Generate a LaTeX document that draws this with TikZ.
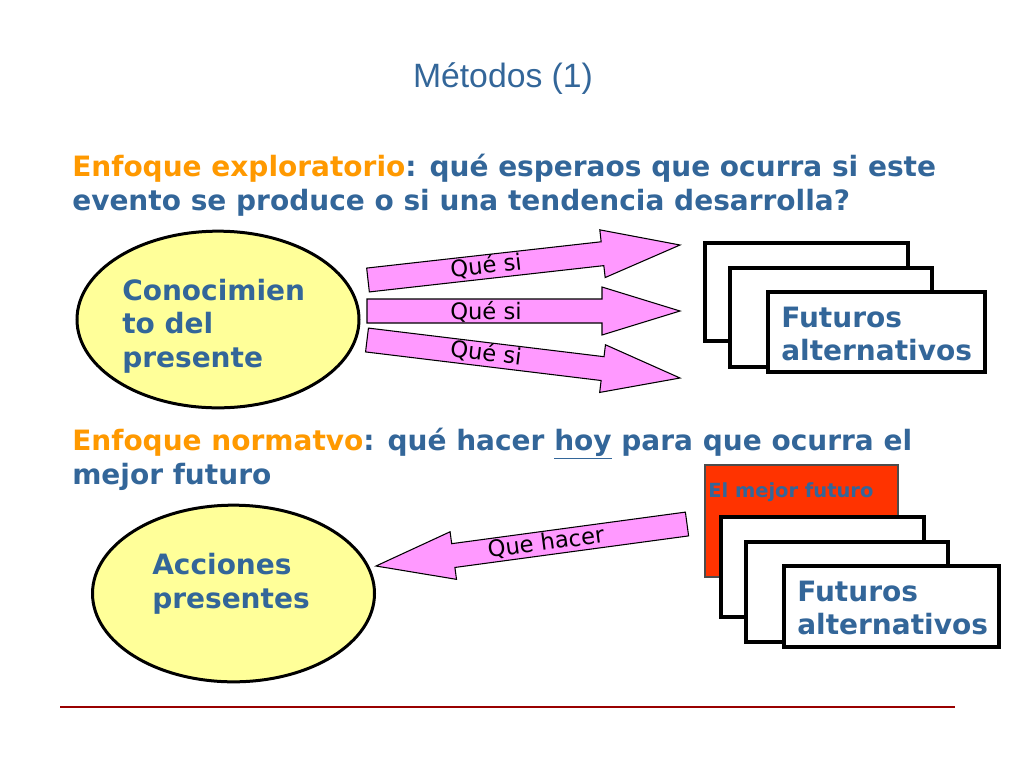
\documentclass[tikz,border=0pt]{standalone}
\usepackage{fontspec}
\setmainfont{DejaVu Sans}
\newfontfamily\titlefont{Liberation Sans}
\usetikzlibrary{shapes.geometric,calc}
\definecolor{tblue}{HTML}{336699}
\definecolor{torange}{HTML}{FF9900}
\definecolor{tpink}{HTML}{FF99FF}
\definecolor{tyellow}{HTML}{FFFF99}
\definecolor{tred}{HTML}{FF3300}
\definecolor{tline}{HTML}{990000}
% block arrow from tail centre #1 to tip #2
\newcommand{\myblockarrow}[2]{%
  \coordinate (hb) at ($(#2)!58.5pt!(#1)$);
  \draw[blockarrow]
    ($(#1)!9pt!90:(#2)$) -- ($(hb)!9pt!-90:(#1)$) -- ($(hb)!18pt!-90:(#1)$) -- (#2)
    -- ($(hb)!18pt!90:(#1)$) -- ($(hb)!9pt!90:(#1)$) -- ($(#1)!9pt!-90:(#2)$) -- cycle;}
\begin{document}
\begin{tikzpicture}[x=0.75pt,y=-0.75pt,
  big/.style={font=\bfseries\fontsize{21}{25}\selectfont, text=tblue, anchor=base west, inner sep=0pt},
  small/.style={font=\bfseries\fontsize{14.6}{17}\selectfont, text=tblue, anchor=base west, inner sep=0pt},
  ell/.style={ellipse, draw, line width=2.25pt, fill=tyellow, minimum width=211.5pt, minimum height=132.5pt, inner sep=0pt},
  blockarrow/.style={draw=black, line width=0.8pt, fill=tpink, line join=miter},
  arrowtext/.style={font=\fontsize{17}{20}\selectfont, text=black, inner sep=0pt},
  cardbox/.style={draw=black, line width=2.4pt, fill=white}]
\useasboundingbox (0,0) rectangle (1024,768);

% title
\node[font=\titlefont\fontsize{25.3}{30}\selectfont, text=tblue, anchor=base] (title) at (503,87) {Métodos (1)};

% headings
\node[big] (h1) at (72,176) {\textcolor{torange}{Enfoque exploratorio}: qué esperaos que ocurra si este};
\node[big] (h2) at (72,210) {evento se produce o si una tendencia desarrolla?};
\node[big] (h3) at (72,450) {\textcolor{torange}{Enfoque normatvo}: qué hacer \underline{hoy} para que ocurra el};
\node[big] (h4) at (72,484) {mejor futuro};

% ellipses
\node[ell] (e1) at (218,319.5) {};
\node[big] (e1a) at (122,300) {Conocimien};
\node[big] (e1b) at (122,333) {to del};
\node[big] (e1c) at (122,367) {presente};

\node[ell] (e2) at (233.5,593.5) {};
\node[big] (e2a) at (152,574) {Acciones};
\node[big] (e2b) at (152,608) {presentes};

% arrows top
\coordinate (a1t) at (368,280);  \coordinate (a1p) at (680,245);
\coordinate (a2t) at (367,311);  \coordinate (a2p) at (680,311);
\coordinate (a3t) at (367,340);  \coordinate (a3p) at (680,378);
\myblockarrow{a1t}{a1p}
\myblockarrow{a2t}{a2p}
\myblockarrow{a3t}{a3p}
\node[arrowtext, rotate=6.4] (t1) at (486,266) {Qué si};
\node[arrowtext] (t2) at (486,312) {Qué si};
\node[arrowtext, rotate=-6.9] (t3) at (486,353) {Qué si};

% boxes top
\draw[cardbox] (705,243) rectangle (908,341);
\draw[cardbox] (730,268) rectangle (932,367);
\draw[cardbox] (768,292) rectangle (985,372);
\node[big] (f1a) at (781,327) {Futuros};
\node[big] (f1b) at (781,360) {alternativos};

% bottom group
\draw[fill=tred, draw=black!70, line width=0.8pt] (705,465) rectangle (898,577);
\node[small] (best) at (708,497) {El mejor futuro};
\draw[cardbox] (721,517) rectangle (924,617);
\draw[cardbox] (746,542) rectangle (948,642);
\draw[cardbox] (784,566) rectangle (999,647);
\node[big] (f2a) at (797,601) {Futuros};
\node[big] (f2b) at (797,634) {alternativos};

% que hacer arrow
\coordinate (a4t) at (687,524);  \coordinate (a4p) at (376,566);
\myblockarrow{a4t}{a4p}
\node[arrowtext, rotate=7.7] (t4) at (546,543) {Que hacer};

% bottom line
\draw[tline, line width=1.5pt] (60,707) -- (955,707);
\end{tikzpicture}
\end{document}
